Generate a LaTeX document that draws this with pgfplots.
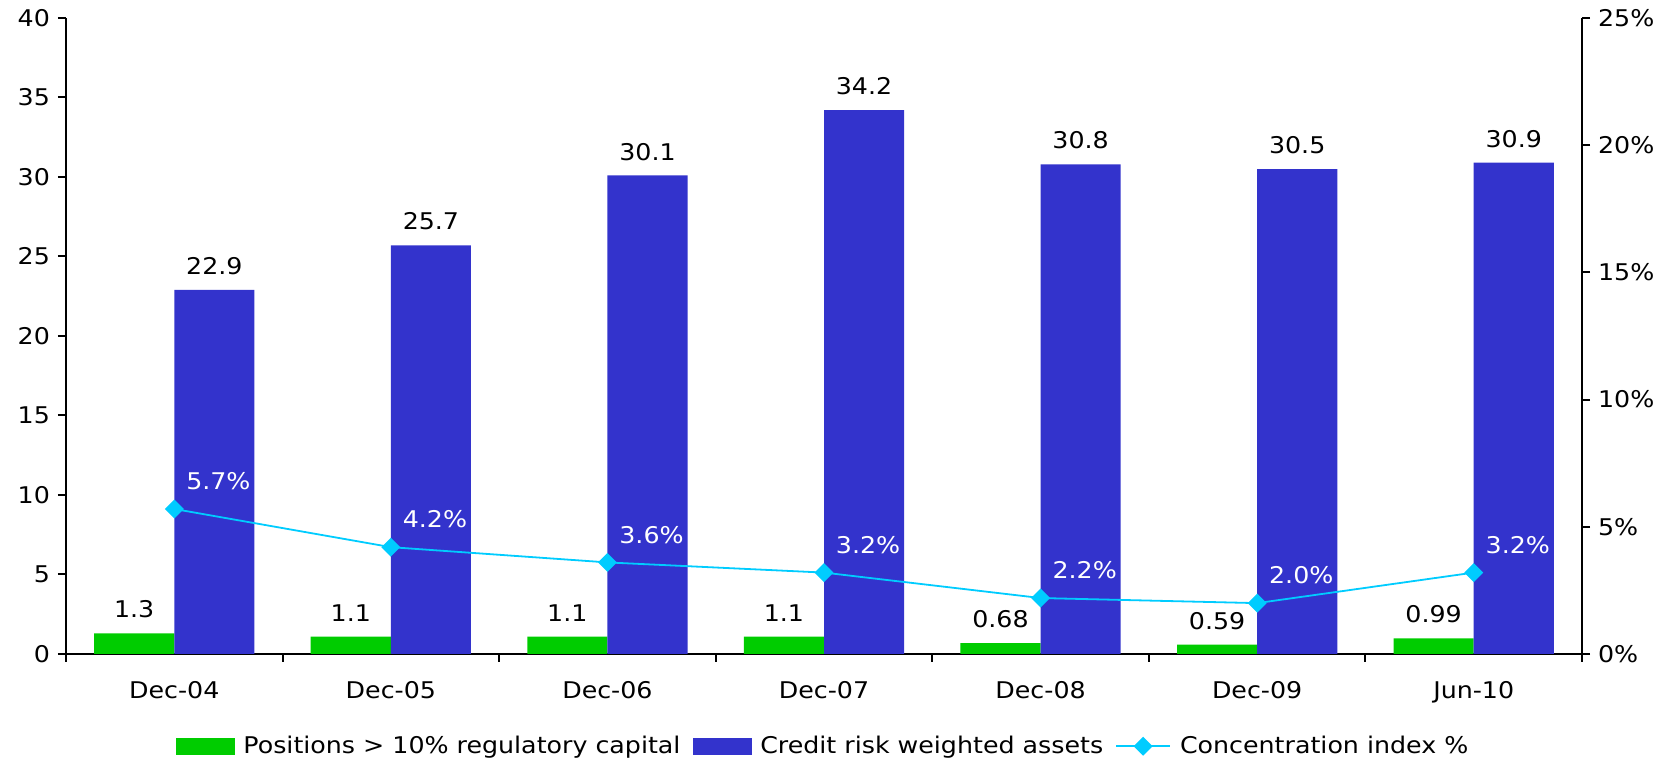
\documentclass[border=0pt]{standalone}
\usepackage{fontspec}
\setmainfont{DejaVu Sans}[FakeStretch=1.1]
\usepackage{pgfplots}
\pgfplotsset{compat=1.18}
\definecolor{cgreen}{HTML}{00CC00}
\definecolor{cblue}{HTML}{3333CC}
\definecolor{ccyan}{HTML}{00CCFF}
\begin{document}
\fontsize{11.5}{14}\selectfont
\begin{tikzpicture}[font=\fontsize{11.5}{14}\selectfont]
\useasboundingbox (-33pt,-53pt) rectangle (802pt,327pt);
\begin{axis}[
 at={(0pt,0pt)}, anchor=south west,
 width=758pt, height=318pt, scale only axis,
 xmin=-0.5, xmax=6.5, ymin=0, ymax=40,
 axis x line*=bottom, axis y line*=left,
 axis line style={line width=1pt},
 every tick/.style={black, line width=1pt},
 tick align=outside,
 major tick length=4pt,
 xtick={-0.5,0.5,...,6.5}, xticklabels={},
 extra x ticks={0,1,2,3,4,5,6},
 extra x tick labels={Dec-04,Dec-05,Dec-06,Dec-07,Dec-08,Dec-09,Jun-10},
 extra x tick style={major tick length=0pt, xticklabel style={yshift=-9.5pt}},
 ytick={0,5,...,40},
 /pgf/number format/assume math mode=true,
 ybar, bar width=0.37,
 nodes near coords,
 every node near coord/.append style={text=black, yshift=3.5pt},
]
\addplot[fill=cgreen, draw=none, bar shift=-0.185] coordinates {
 (0,1.3) (1,1.1) (2,1.1) (3,1.1) (4,0.68) (5,0.59) (6,0.99)};
\addplot[fill=cblue, draw=none, bar shift=0.185] coordinates {
 (0,22.9) (1,25.7) (2,30.1) (3,34.2) (4,30.8) (5,30.5) (6,30.9)};
\end{axis}
\begin{axis}[
 at={(0pt,0pt)}, anchor=south west,
 width=758pt, height=318pt, scale only axis,
 xmin=-0.5, xmax=6.5, ymin=0, ymax=25,
 axis y line*=right, axis x line=none,
 axis line style={line width=1pt},
 every tick/.style={black, line width=1pt},
 tick align=outside,
 major tick length=4pt,
 ytick={0,5,...,25},
 yticklabel={\pgfmathprintnumber{\tick}\%},
 /pgf/number format/assume math mode=true,
 legend style={at={(0.5,-0.145)}, anchor=center, draw=none, fill=none,
   legend columns=3, font=\fontsize{11.5}{14}\selectfont,
   /tikz/every odd column/.append style={column sep=2.5pt},
   /tikz/every even column/.append style={column sep=4pt}},
 legend cell align=left,
]
\addlegendimage{legend image code/.code={\fill[cgreen] (0pt,-4pt) rectangle (29pt,4pt);}}
\addlegendentry{Positions > 10\% regulatory capital}
\addlegendimage{legend image code/.code={\fill[cblue] (0pt,-4pt) rectangle (29pt,4pt);}}
\addlegendentry{Credit risk weighted assets}
\addplot[ccyan, line width=0.9pt, mark=square*, mark size=2.9pt,
  mark options={rotate=45, fill=ccyan, draw=ccyan},
  legend image code/.code={\draw[ccyan, line width=0.9pt] (0pt,0pt) -- (27pt,0pt);
    \draw[ccyan, fill=ccyan, mark=square*, mark size=2.9pt, mark options={rotate=45}] plot coordinates {(13.5pt,0pt)};},
  nodes near coords={\pgfmathprintnumber[fixed,fixed zerofill,precision=1]{\pgfplotspointmeta}\%},
  every node near coord/.append style={text=white, anchor=south west, xshift=1.7pt, yshift=5.2pt},
] coordinates {
 (0,5.7) (1,4.2) (2,3.6) (3,3.2) (4,2.2) (5,2.0) (6,3.2)};
\addlegendentry{Concentration index \%}
\end{axis}
\end{tikzpicture}
\end{document}
